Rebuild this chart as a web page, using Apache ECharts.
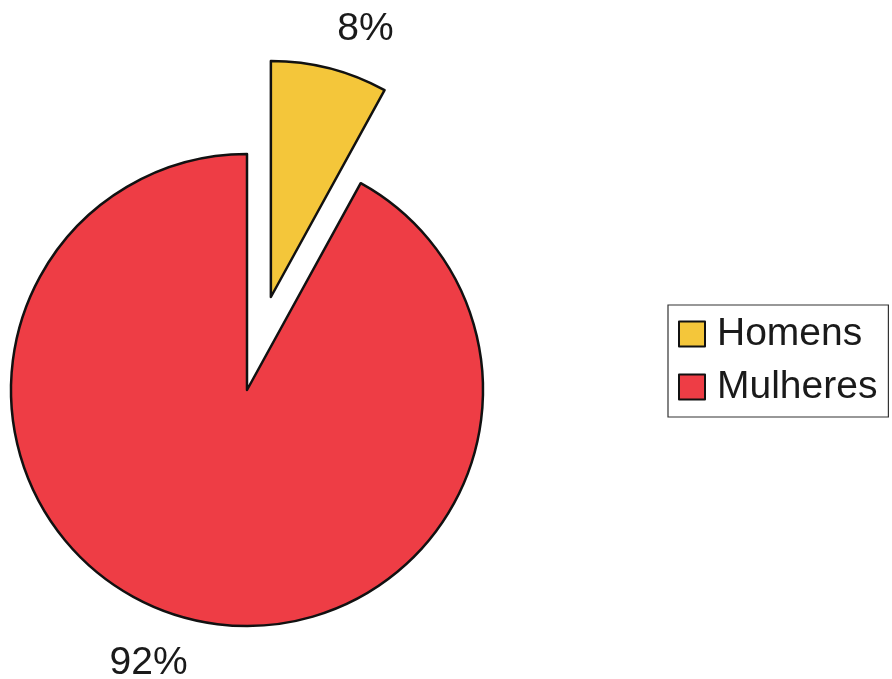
<!DOCTYPE html>
<html><head><meta charset="utf-8">
<script src="https://cdn.jsdelivr.net/npm/echarts@6/dist/echarts.min.js"></script>
<style>html,body{margin:0;padding:0;background:#fff}#c{width:892px;height:679px}</style>
</head><body><div id="c"></div>
<script>
const categories = ['Homens', 'Mulheres'];
const values = [8, 92];
const colors = ['#F4C63A', '#EE3D45'];

const chart = echarts.init(document.getElementById('c'));
chart.setOption({
  backgroundColor: '#ffffff',
  animation: false,
  legend: {
    orient: 'vertical',
    left: 668, top: 305,
    padding: [8, 11, 9, 10],
    borderColor: '#333', borderWidth: 1.2,
    itemWidth: 26, itemHeight: 25, itemGap: 11,
    icon: 'rect',
    itemStyle: { borderColor: '#111', borderWidth: 2 },
    textStyle: { fontFamily: 'Liberation Sans', fontSize: 39, color: '#1a1a1a', lineHeight: 42, padding: [0, 0, 0, 7] },
    data: categories
  },
  series: [{
    type: 'pie',
    center: [247, 390],
    radius: 236,
    startAngle: 90,
    clockwise: true,
    selectedMode: 'single',
    selectedOffset: 96,
    avoidLabelOverlap: false,
    label: {
      show: true, position: 'outside',
      formatter: '{d}%',
      fontFamily: 'Liberation Sans', fontSize: 39, color: '#1a1a1a'
    },
    labelLine: { show: false, length: 43, length2: 0 },
    labelLayout: function (p) {
      return p.dataIndex === 0 ? { dx: -8, dy: 2 } : { dx: 15, dy: 3 };
    },
    itemStyle: { borderColor: '#111', borderWidth: 2.5 },
    emphasis: { disabled: true },
    data: categories.map((n, i) => ({
      name: n, value: values[i], selected: i === 0,
      itemStyle: { color: colors[i] }
    }))
  }]
});
</script></body></html>
